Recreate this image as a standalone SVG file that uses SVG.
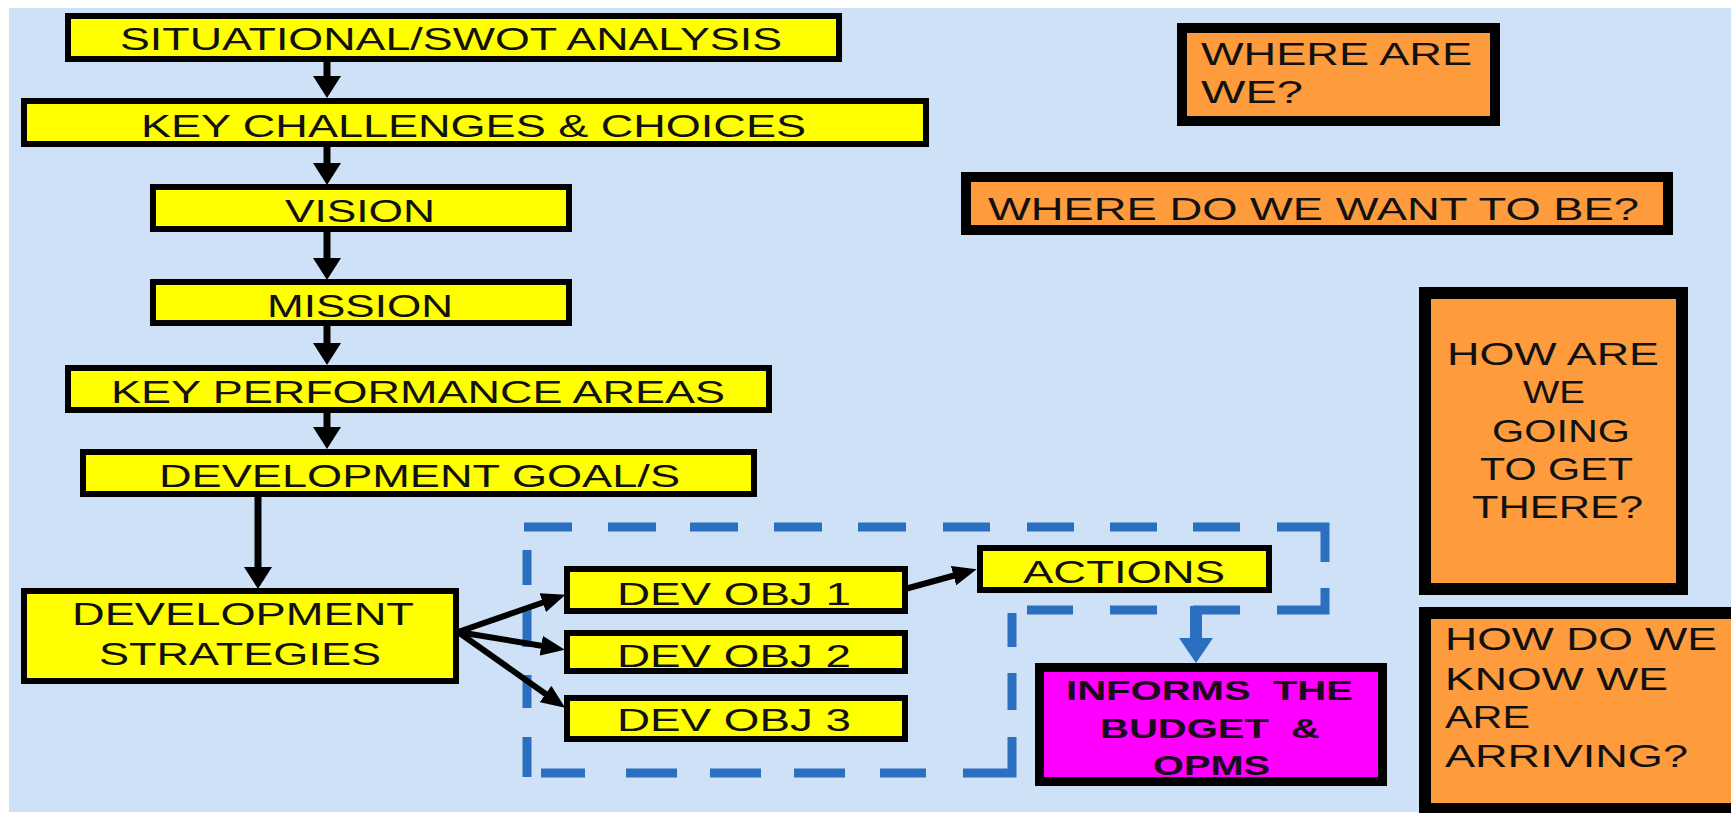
<svg xmlns="http://www.w3.org/2000/svg" width="1731" height="813" viewBox="0 0 1731 813">
  <defs>
    <style>
      .box { fill: #ffff00; stroke: #000; stroke-width: 6; }
      .q { fill: #fd9b3d; stroke: #000; }
      .pink { fill: #ff00ff; stroke: #000; stroke-width: 9; }
      .t { font-family: "Liberation Sans", Arial, sans-serif; font-size: 31px; fill: #111; }
      .tb { font-family: "Liberation Sans", Arial, sans-serif; font-size: 28px; font-weight: bold; fill: #1a0a1a; }
      .flow { stroke: #000; stroke-width: 7; fill: none; }
      .fan { stroke: #000; stroke-width: 6; fill: none; }
      .dash { stroke: #2b6fc0; stroke-width: 9; fill: none; stroke-linecap: butt; stroke-linejoin: miter; }
    </style>
    <marker id="headV" markerUnits="userSpaceOnUse" viewBox="0 0 22 28" markerWidth="22" markerHeight="28" refX="12" refY="14" orient="auto">
      <path d="M0,0 L22,14 L0,28 Z" fill="#000"/>
    </marker>
    <marker id="headF" markerUnits="userSpaceOnUse" viewBox="0 0 24 20" markerWidth="24" markerHeight="20" refX="14" refY="10" orient="auto">
      <path d="M0,0 L24,10 L0,20 Z" fill="#000"/>
    </marker>
  </defs>

  <!-- page -->
  <rect x="0" y="0" width="1731" height="813" fill="#ffffff"/>
  <rect x="9" y="8" width="1722" height="804" fill="#cfe1f7"/>

  <!-- dashed boundary around the objectives and actions -->
  <g id="boundary">
    <path class="dash" d="M524,527 H572 M608,527 H656 M690,527 H738 M774,527 H822 M858,527 H906 M943,527 H990 M1027,527 H1074 M1110,527 H1157 M1193,527 H1240"/>
    <path class="dash" d="M1277,527 H1325 V562"/>
    <path class="dash" d="M1325,588 V610 H1277"/>
    <path class="dash" d="M1240,610 H1193 M1157,610 H1110 M1073,610 H1027"/>
    <path class="dash" d="M1012,613 V647 M1012,673 V710"/>
    <path class="dash" d="M1012,737 V773 H963"/>
    <path class="dash" d="M926,773 H880 M845,773 H794 M761,773 H710 M677,773 H626 M585,773 H541"/>
    <path class="dash" d="M527,550 V585 M527,610 V647 M527,675 V708 M527,737 V777"/>
  </g>

  <!-- connectors -->
  <g id="connectors">
    <line class="flow" x1="327" y1="62" x2="327" y2="88" marker-end="url(#headV)"/>
    <line class="flow" x1="327" y1="147" x2="327" y2="175" marker-end="url(#headV)"/>
    <line class="flow" x1="327" y1="232" x2="327" y2="270" marker-end="url(#headV)"/>
    <line class="flow" x1="327" y1="326" x2="327" y2="355" marker-end="url(#headV)"/>
    <line class="flow" x1="327" y1="413" x2="327" y2="439" marker-end="url(#headV)"/>
    <line class="flow" x1="258" y1="497" x2="258" y2="579" marker-end="url(#headV)"/>
    <line class="fan" x1="458" y1="632" x2="556" y2="598" marker-end="url(#headF)"/>
    <line class="fan" x1="458" y1="632" x2="555" y2="648" marker-end="url(#headF)"/>
    <line class="fan" x1="458" y1="632" x2="557" y2="702" marker-end="url(#headF)"/>
    <line class="fan" x1="905" y1="589" x2="967" y2="572" marker-end="url(#headF)"/>
    <!-- actions feed the budget -->
    <line x1="1196" y1="606" x2="1196" y2="640" stroke="#2b6fc0" stroke-width="12"/>
    <polygon points="1179,638 1213,638 1196,663" fill="#2b6fc0"/>
  </g>

  <g id="swot">
    <rect class="box" x="68" y="16" width="771" height="43"/>
    <text class="t" x="120" y="50" textLength="662" lengthAdjust="spacingAndGlyphs">SITUATIONAL/SWOT ANALYSIS</text>
  </g>
  <g id="challenges">
    <rect class="box" x="24" y="101" width="902" height="43"/>
    <text class="t" x="141" y="137" textLength="665" lengthAdjust="spacingAndGlyphs">KEY CHALLENGES &amp; CHOICES</text>
  </g>
  <g id="vision">
    <rect class="box" x="153" y="187" width="416" height="42"/>
    <text class="t" x="285" y="222" textLength="150" lengthAdjust="spacingAndGlyphs">VISION</text>
  </g>
  <g id="mission">
    <rect class="box" x="153" y="282" width="416" height="41"/>
    <text class="t" x="267" y="317" textLength="186" lengthAdjust="spacingAndGlyphs">MISSION</text>
  </g>
  <g id="kpa">
    <rect class="box" x="68" y="368" width="701" height="42"/>
    <text class="t" x="111" y="403" textLength="614" lengthAdjust="spacingAndGlyphs">KEY PERFORMANCE AREAS</text>
  </g>
  <g id="goals">
    <rect class="box" x="83" y="452" width="671" height="42"/>
    <text class="t" x="159" y="487" textLength="521" lengthAdjust="spacingAndGlyphs">DEVELOPMENT GOAL/S</text>
  </g>
  <g id="strategies">
    <rect class="box" x="24" y="591" width="432" height="90"/>
    <text class="t" x="72" y="625" textLength="342" lengthAdjust="spacingAndGlyphs">DEVELOPMENT</text>
    <text class="t" x="99" y="665" textLength="282" lengthAdjust="spacingAndGlyphs">STRATEGIES</text>
  </g>
  <g id="obj1">
    <rect class="box" x="567" y="569" width="338" height="42"/>
    <text class="t" x="617" y="605" textLength="234" lengthAdjust="spacingAndGlyphs">DEV OBJ 1</text>
  </g>
  <g id="obj2">
    <rect class="box" x="567" y="633" width="338" height="38"/>
    <text class="t" x="617" y="667" textLength="234" lengthAdjust="spacingAndGlyphs">DEV OBJ 2</text>
  </g>
  <g id="obj3">
    <rect class="box" x="567" y="698" width="338" height="41"/>
    <text class="t" x="617" y="731" textLength="234" lengthAdjust="spacingAndGlyphs">DEV OBJ 3</text>
  </g>
  <g id="actions">
    <rect class="box" x="980" y="548" width="289" height="42"/>
    <text class="t" x="1023" y="583" font-size="30" textLength="202" lengthAdjust="spacingAndGlyphs">ACTIONS</text>
  </g>
  <g id="budget">
    <rect class="pink" x="1039.5" y="667.5" width="343" height="114"/>
    <text class="tb" x="1066" y="700" textLength="287" lengthAdjust="spacingAndGlyphs" xml:space="preserve">INFORMS  THE</text>
    <text class="tb" x="1100" y="738" textLength="220" lengthAdjust="spacingAndGlyphs" xml:space="preserve">BUDGET  &amp;</text>
    <text class="tb" x="1153" y="775" textLength="117" lengthAdjust="spacingAndGlyphs">OPMS</text>
  </g>

  <g id="where-are-we">
    <rect class="q" x="1182" y="28" width="313" height="93" stroke-width="10"/>
    <text class="t" x="1201" y="65" textLength="271" lengthAdjust="spacingAndGlyphs">WHERE ARE</text>
    <text class="t" x="1201" y="103" textLength="102" lengthAdjust="spacingAndGlyphs">WE?</text>
  </g>
  <g id="where-to-be">
    <rect class="q" x="966" y="177" width="702" height="53" stroke-width="10"/>
    <text class="t" x="988" y="220" font-size="33" textLength="651" lengthAdjust="spacingAndGlyphs">WHERE DO WE WANT TO BE?</text>
  </g>
  <g id="how-get-there">
    <rect class="q" x="1425" y="293" width="257" height="296" stroke-width="12"/>
    <text class="t" x="1447" y="365" font-size="32" textLength="212" lengthAdjust="spacingAndGlyphs">HOW ARE</text>
    <text class="t" x="1523" y="403" font-size="32" textLength="62" lengthAdjust="spacingAndGlyphs">WE</text>
    <text class="t" x="1492" y="442" font-size="32" textLength="138" lengthAdjust="spacingAndGlyphs">GOING</text>
    <text class="t" x="1480" y="480" font-size="32" textLength="153" lengthAdjust="spacingAndGlyphs">TO GET</text>
    <text class="t" x="1472" y="518" font-size="32" textLength="171" lengthAdjust="spacingAndGlyphs">THERE?</text>
  </g>
  <g id="how-know">
    <rect class="q" x="1425" y="613" width="330" height="196" stroke-width="12"/>
    <text class="t" x="1445" y="650" font-size="32" textLength="272" lengthAdjust="spacingAndGlyphs">HOW DO WE</text>
    <text class="t" x="1445" y="690" font-size="32" textLength="223" lengthAdjust="spacingAndGlyphs">KNOW WE</text>
    <text class="t" x="1445" y="728" font-size="32" textLength="85" lengthAdjust="spacingAndGlyphs">ARE</text>
    <text class="t" x="1445" y="767" font-size="32" textLength="243" lengthAdjust="spacingAndGlyphs">ARRIVING?</text>
  </g>
</svg>
